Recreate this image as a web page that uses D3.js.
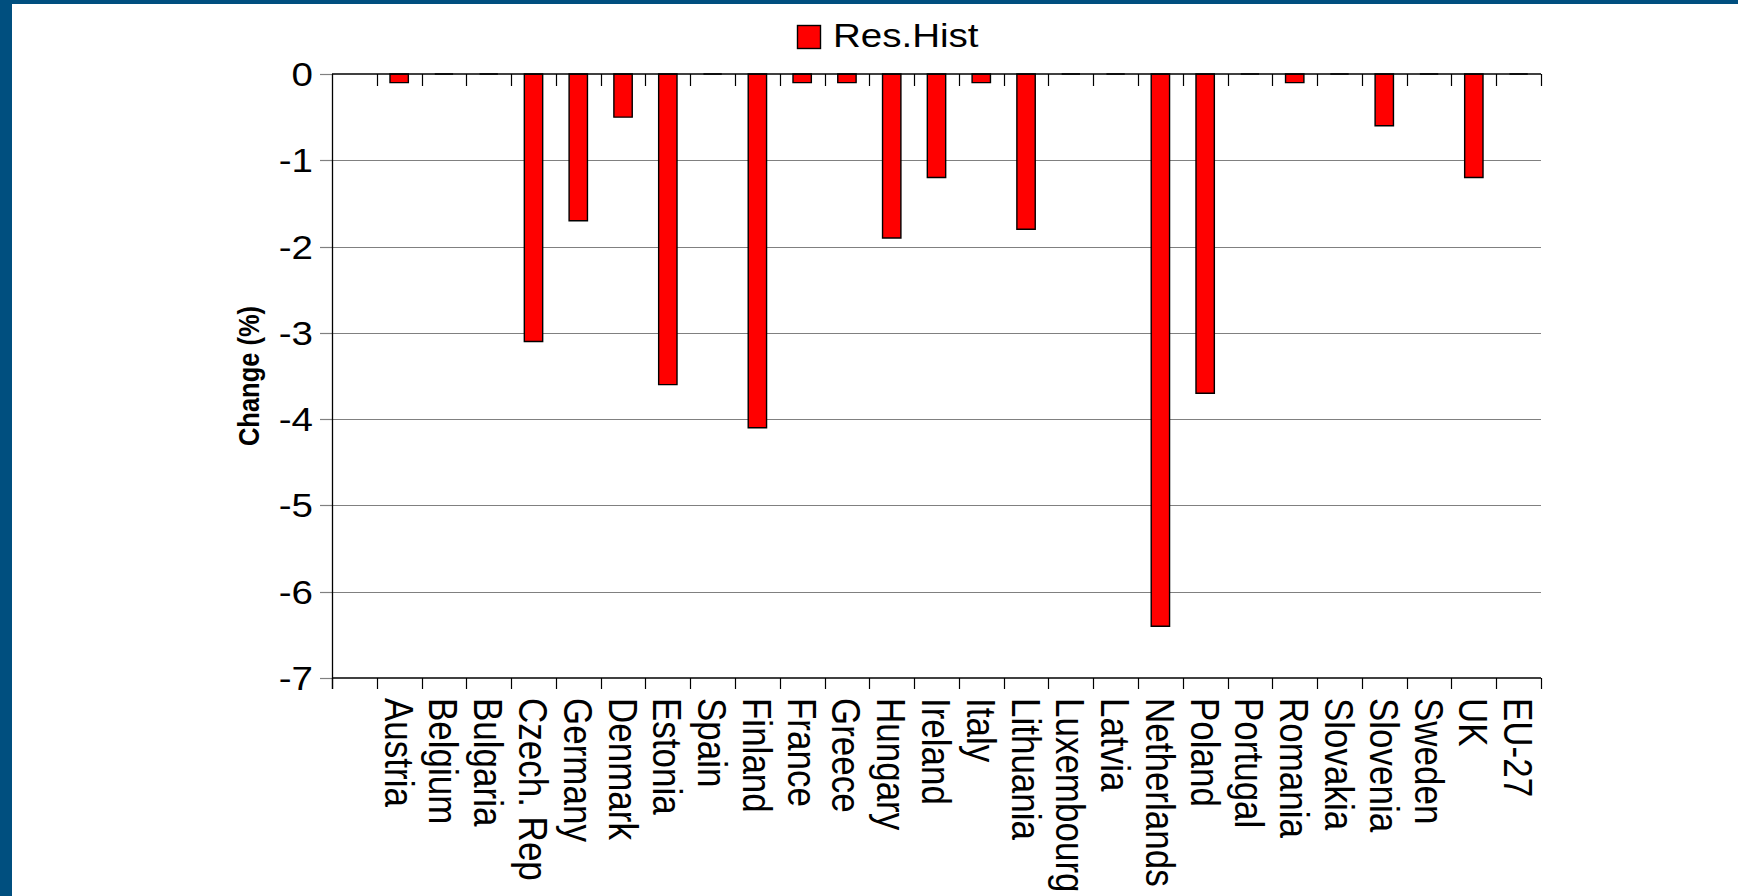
<!DOCTYPE html>
<html>
<head>
<meta charset="utf-8">
<script src="https://cdn.jsdelivr.net/npm/d3@7"></script>
<style>
  html, body { margin: 0; padding: 0; background: #ffffff; }
  svg { display: block; }
  text { font-family: "Liberation Sans", Arial, sans-serif; fill: #000; }
</style>
</head>
<body>
<svg id="chart" width="1738" height="896"></svg>
<script>
// Country categories (the first slot is left empty on the axis)
const categories = ["", "Austria", "Belgium", "Bulgaria", "Czech. Rep", "Germany", "Denmark",
  "Estonia", "Spain", "Finland", "France", "Greece", "Hungary", "Ireland", "Italy",
  "Lithuania", "Luxembourg", "Latvia", "Netherlands", "Poland", "Portugal", "Romania",
  "Slovakia", "Slovenia", "Sweden", "UK", "EU-27"];

// Res.Hist change (%) per country
const resHist = [null, -0.1, 0, 0, -3.1, -1.7, -0.5, -3.6, 0, -4.1, -0.1, -0.1, -1.9, -1.2,
  -0.1, -1.8, 0, 0, -6.4, -3.7, 0, -0.1, 0, -0.6, 0, -1.2, 0];

const yTicks = [0, -1, -2, -3, -4, -5, -6, -7];
const seriesName = "Res.Hist";
const yTitle = "Change (%)";

const W = 1738, H = 896;
const frameColor = "#004f7f";
const stretch = 1.15; // horizontal text stretch

const svg = d3.select("#chart");

// page frame
svg.append("rect").attr("x", 0).attr("y", 0).attr("width", W).attr("height", H).attr("fill", "#fff");
svg.append("rect").attr("x", 0).attr("y", 0).attr("width", 12).attr("height", H).attr("fill", frameColor);
svg.append("rect").attr("x", 0).attr("y", 0).attr("width", W).attr("height", 4).attr("fill", frameColor);

const plot = { left: 332, right: 1541, top: 74, bottom: 678 };

const x = d3.scaleBand().domain(categories).range([plot.left, plot.right]).paddingInner(0).paddingOuter(0);
const y = d3.scaleLinear().domain([-7, 0]).range([plot.bottom, plot.top]);

// horizontal gridlines
svg.append("g").selectAll("line")
  .data(yTicks.filter(d => d !== 0 && d !== -7))
  .join("line")
  .attr("x1", plot.left).attr("x2", plot.right)
  .attr("y1", d => Math.round(y(d)) + 0.5).attr("y2", d => Math.round(y(d)) + 0.5)
  .attr("stroke", "#808080").attr("stroke-width", 1.2);

// left tick marks
svg.append("g").selectAll("line")
  .data(yTicks)
  .join("line")
  .attr("x1", plot.left - 12).attr("x2", plot.left)
  .attr("y1", d => Math.round(y(d)) + 0.5).attr("y2", d => Math.round(y(d)) + 0.5)
  .attr("stroke", "#808080").attr("stroke-width", 1.2);

// bars
const barW = x.bandwidth() * 0.41;
const rows = categories.map((c, i) => ({ c, v: resHist[i] })).filter(d => d.v !== null);
svg.append("g").selectAll("path")
  .data(rows)
  .join("path")
  .attr("d", d => {
    const cx = x(d.c) + x.bandwidth() / 2;
    const x0 = cx - barW / 2, x1 = cx + barW / 2;
    const y0 = y(0), y1 = y(d.v);
    return `M${x0},${y0}H${x1}V${y1}H${x0}Z`;
  })
  .attr("fill", "#ff0000")
  .attr("stroke", "#000")
  .attr("stroke-width", 1.4)
  .attr("stroke-linejoin", "miter");

// axis lines
const axis = svg.append("g").attr("stroke", "#000");
axis.append("line").attr("x1", plot.left + 0.5).attr("x2", plot.left + 0.5)
  .attr("y1", plot.top).attr("y2", plot.bottom + 11).attr("stroke-width", 1.3);
axis.append("line").attr("x1", plot.left).attr("x2", plot.right)
  .attr("y1", y(0)).attr("y2", y(0)).attr("stroke-width", 1.4);
axis.append("line").attr("x1", plot.left).attr("x2", plot.right)
  .attr("y1", y(-7)).attr("y2", y(-7)).attr("stroke-width", 1.4);

// category boundary ticks (at the zero line and below the bottom edge)
const edges = categories.map(c => x(c)).concat([x.range()[1]]);
axis.append("g").selectAll("line")
  .data(edges.slice(1))
  .join("line")
  .attr("x1", d => Math.round(d) + 0.5).attr("x2", d => Math.round(d) + 0.5)
  .attr("y1", y(0)).attr("y2", y(0) + 12).attr("stroke-width", 1.2);
axis.append("g").selectAll("line")
  .data(edges)
  .join("line")
  .attr("x1", d => Math.round(d) + 0.5).attr("x2", d => Math.round(d) + 0.5)
  .attr("y1", y(-7)).attr("y2", y(-7) + 11).attr("stroke-width", 1.2);

// y tick labels
svg.append("g").selectAll("text")
  .data(yTicks)
  .join("text")
  .attr("transform", d => `translate(313,${y(d)}) scale(${stretch},1)`)
  .attr("text-anchor", "end")
  .attr("dy", "0.36em")
  .attr("font-size", 33.5)
  .text(d => String(d));

// category labels, rotated
svg.append("g").selectAll("text")
  .data(categories.filter(c => c !== ""))
  .join("text")
  .attr("transform", c => `translate(${x(c) + x.bandwidth() / 2},698) scale(${stretch},1) rotate(90)`)
  .attr("text-anchor", "start")
  .attr("dy", "0.36em")
  .attr("font-size", 35)
  .text(c => c);

// y axis title
svg.append("text")
  .attr("transform", `translate(248,${(plot.top + plot.bottom) / 2}) scale(${stretch},1) rotate(-90)`)
  .attr("text-anchor", "middle")
  .attr("dy", "0.36em")
  .attr("font-size", 25.5)
  .attr("font-weight", "bold")
  .text(yTitle);

// legend
const lg = svg.append("g");
lg.append("rect").attr("x", 797.5).attr("y", 25.5).attr("width", 23).attr("height", 23)
  .attr("fill", "#ff0000").attr("stroke", "#000").attr("stroke-width", 1.4);
lg.append("text")
  .attr("transform", `translate(833,47.3) scale(${stretch},1)`)
  .attr("font-size", 33.5)
  .text(seriesName);
</script>
</body>
</html>
